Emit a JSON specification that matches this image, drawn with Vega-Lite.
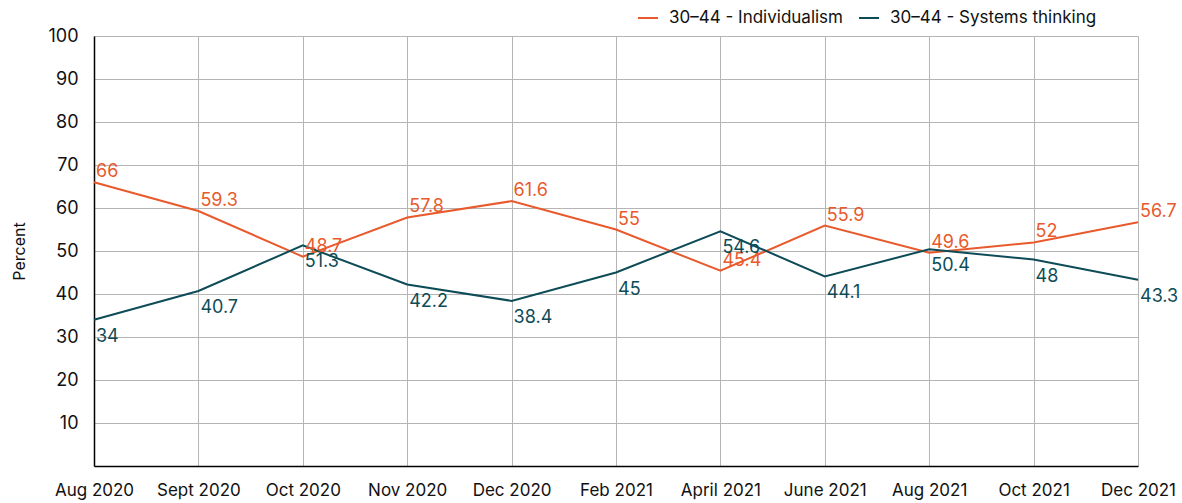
{
  "$schema": "https://vega.github.io/schema/vega-lite/v6.json",
  "width": 1044,
  "height": 430,
  "autosize": {"type": "none"},
  "padding": {"left": 94, "top": 36, "right": 44, "bottom": 37},
  "background": "white",
  "config": {
    "font": "Inter",
    "view": {"stroke": null},
    "axis": {"labelFont": "Inter", "titleFont": "Inter"},
    "legend": {"labelFont": "Inter"}
  },
  "data": {
    "values": [
      {"month": "Aug 2020", "series": "30–44 - Individualism", "value": 66},
      {"month": "Sept 2020", "series": "30–44 - Individualism", "value": 59.3},
      {"month": "Oct 2020", "series": "30–44 - Individualism", "value": 48.7},
      {"month": "Nov 2020", "series": "30–44 - Individualism", "value": 57.8},
      {"month": "Dec 2020", "series": "30–44 - Individualism", "value": 61.6},
      {"month": "Feb 2021", "series": "30–44 - Individualism", "value": 55},
      {"month": "April 2021", "series": "30–44 - Individualism", "value": 45.4},
      {"month": "June 2021", "series": "30–44 - Individualism", "value": 55.9},
      {"month": "Aug 2021", "series": "30–44 - Individualism", "value": 49.6},
      {"month": "Oct 2021", "series": "30–44 - Individualism", "value": 52},
      {"month": "Dec 2021", "series": "30–44 - Individualism", "value": 56.7},
      {"month": "Aug 2020", "series": "30–44 - Systems thinking", "value": 34},
      {"month": "Sept 2020", "series": "30–44 - Systems thinking", "value": 40.7},
      {"month": "Oct 2020", "series": "30–44 - Systems thinking", "value": 51.3},
      {"month": "Nov 2020", "series": "30–44 - Systems thinking", "value": 42.2},
      {"month": "Dec 2020", "series": "30–44 - Systems thinking", "value": 38.4},
      {"month": "Feb 2021", "series": "30–44 - Systems thinking", "value": 45},
      {"month": "April 2021", "series": "30–44 - Systems thinking", "value": 54.6},
      {"month": "June 2021", "series": "30–44 - Systems thinking", "value": 44.1},
      {"month": "Aug 2021", "series": "30–44 - Systems thinking", "value": 50.4},
      {"month": "Oct 2021", "series": "30–44 - Systems thinking", "value": 48},
      {"month": "Dec 2021", "series": "30–44 - Systems thinking", "value": 43.3}
    ]
  },
  "encoding": {
    "x": {
      "field": "month", "type": "ordinal", "sort": null,
      "scale": {"type": "point", "padding": 0},
      "axis": {
        "title": null, "labelAngle": 0, "ticks": false, "grid": true,
        "gridColor": "#b5b5b5", "gridWidth": 1,
        "domainColor": "#000000", "domainWidth": 1.5,
        "labelFontSize": 17, "labelColor": "#111111", "labelPadding": 16
      }
    },
    "y": {
      "field": "value", "type": "quantitative",
      "scale": {"domain": [0, 100], "nice": false},
      "axis": {
        "title": "Percent", "titleFontSize": 16, "titleFontWeight": "normal",
        "titleColor": "#111111", "titlePadding": 20,
        "values": [10, 20, 30, 40, 50, 60, 70, 80, 90, 100],
        "ticks": false, "grid": true, "gridColor": "#b5b5b5", "gridWidth": 1,
        "domainColor": "#000000", "domainWidth": 1.5,
        "labelFontSize": 18, "labelColor": "#111111", "labelPadding": 16
      }
    },
    "color": {
      "field": "series", "type": "nominal",
      "scale": {
        "domain": ["30–44 - Individualism", "30–44 - Systems thinking"],
        "range": ["#E85A2C", "#0D4C57"]
      },
      "legend": {
        "title": null, "orient": "none", "legendX": 543, "legendY": -29,
        "direction": "horizontal", "symbolType": "stroke", "symbolSize": 400,
        "symbolStrokeWidth": 2, "labelFontSize": 17, "labelColor": "#111111",
        "labelOffset": 10, "columnPadding": 12, "labelLimit": 0
      }
    }
  },
  "layer": [
    {"mark": {"type": "line", "strokeWidth": 2}},
    {
      "transform": [{"filter": "datum.series === '30–44 - Individualism'"}],
      "mark": {"type": "text", "align": "left", "baseline": "alphabetic", "dx": 2, "dy": -5, "fontSize": 18},
      "encoding": {"text": {"field": "value", "type": "quantitative"}}
    },
    {
      "transform": [{"filter": "datum.series === '30–44 - Systems thinking'"}],
      "mark": {"type": "text", "align": "left", "baseline": "alphabetic", "dx": 2, "dy": 22, "fontSize": 18},
      "encoding": {"text": {"field": "value", "type": "quantitative"}}
    }
  ]
}
